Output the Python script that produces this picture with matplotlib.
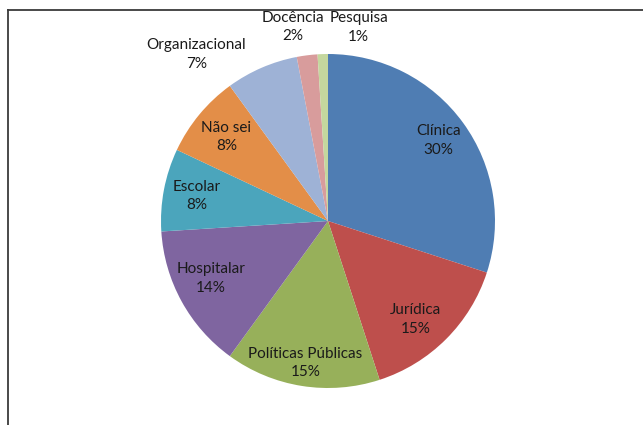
import numpy as np
import matplotlib
matplotlib.use("Agg")
import matplotlib.pyplot as plt
from matplotlib.lines import Line2D

categories = ["Clínica", "Jurídica", "Políticas Públicas", "Hospitalar", "Escolar",
              "Não sei", "Organizacional", "Docência", "Pesquisa"]
values = [30, 15, 15, 14, 8, 8, 7, 2, 1]
pct_labels = ["30%", "15%", "15%", "14%", "8%", "8%", "7%", "2%", "1%"]

colors = ["#4F7DB3", "#BE4F4C", "#97B05A", "#7F65A0", "#4BA5BC", "#E38E48",
          "#9EB2D6", "#D89C9C", "#C4D79E"]
label_dist = [0.82, 0.77, 0.86, 0.80, 0.80, 0.79, 1.0, 1.18, 1.17]
label_dx = [0, -0.02, 0, 0, 0, 0, -0.39, -0.06, 0.22]
label_dy = [0, -0.045, 0, 0.04, 0, 0, 0.08, -0.01, -0.01]

plt.rcParams['font.family'] = ['Lato', 'DejaVu Sans']

fig = plt.figure(figsize=(6.43, 4.25), dpi=100)
ax = fig.add_axes([0, 0, 1, 1])

wedges, _ = ax.pie(values, colors=colors, startangle=90, counterclock=False,
                   radius=1.0, center=(0, 0), frame=True)
ax.set_xlim(-328 / 167, (643 - 328) / 167)
ax.set_ylim(-(425 - 221) / 167, 221 / 167)
ax.set_aspect("auto")
ax.axis("off")

for w, cat, pct, d, dx, dy in zip(wedges, categories, pct_labels, label_dist,
                                  label_dx, label_dy):
    ang = np.deg2rad((w.theta1 + w.theta2) / 2)
    x = d * np.cos(ang) + dx
    y = d * np.sin(ang) + dy
    ax.text(x, y, f"{cat}\n{pct}", ha="center", va="center", fontsize=11,
            color="#1a1a1a", linespacing=1.4)

# chart frame (cropped: only top and left visible)
fig.add_artist(Line2D([8 / 643, 1], [1 - 10 / 425, 1 - 10 / 425],
                      transform=fig.transFigure, color="#3a3a3a", lw=1.3))
fig.add_artist(Line2D([8 / 643, 8 / 643], [0, 1 - 10 / 425],
                      transform=fig.transFigure, color="#3a3a3a", lw=1.3))

fig.savefig("out.png", dpi=100)
